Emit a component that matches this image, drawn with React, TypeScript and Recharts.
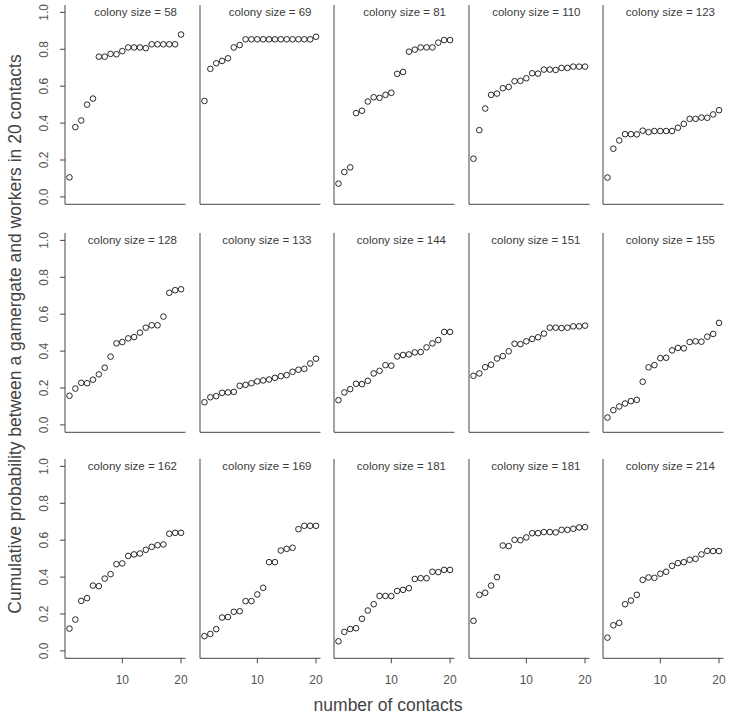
import React from 'react';
import { ScatterChart, Scatter, XAxis, YAxis } from 'recharts';

// number of contacts on the x axis of every panel
const contacts = [1, 2, 3, 4, 5, 6, 7, 8, 9, 10, 11, 12, 13, 14, 15, 16, 17, 18, 19, 20];

// cumulative probability, one array per colony
const prob58 = [0.106, 0.378, 0.414, 0.5, 0.533, 0.76, 0.76, 0.775, 0.773, 0.79, 0.81, 0.81, 0.81, 0.806, 0.827, 0.827, 0.827, 0.827, 0.827, 0.88];
const prob69 = [0.52, 0.694, 0.724, 0.737, 0.751, 0.81, 0.823, 0.854, 0.854, 0.854, 0.854, 0.854, 0.854, 0.854, 0.854, 0.854, 0.854, 0.854, 0.854, 0.868];
const prob81 = [0.072, 0.135, 0.16, 0.454, 0.467, 0.517, 0.54, 0.537, 0.553, 0.564, 0.667, 0.677, 0.787, 0.798, 0.81, 0.81, 0.81, 0.836, 0.85, 0.85];
const prob110 = [0.207, 0.362, 0.479, 0.553, 0.56, 0.589, 0.596, 0.627, 0.629, 0.643, 0.67, 0.668, 0.69, 0.69, 0.688, 0.699, 0.699, 0.706, 0.706, 0.706];
const prob123 = [0.105, 0.261, 0.306, 0.34, 0.34, 0.339, 0.359, 0.351, 0.357, 0.357, 0.357, 0.357, 0.375, 0.396, 0.423, 0.423, 0.43, 0.429, 0.447, 0.47];
const prob128 = [0.158, 0.197, 0.228, 0.226, 0.245, 0.274, 0.31, 0.37, 0.442, 0.449, 0.469, 0.476, 0.5, 0.527, 0.54, 0.54, 0.587, 0.716, 0.73, 0.735];
const prob133 = [0.123, 0.15, 0.156, 0.174, 0.176, 0.179, 0.212, 0.217, 0.226, 0.236, 0.241, 0.246, 0.255, 0.264, 0.27, 0.288, 0.299, 0.304, 0.333, 0.359];
const prob144 = [0.134, 0.176, 0.194, 0.223, 0.221, 0.239, 0.279, 0.293, 0.324, 0.321, 0.371, 0.379, 0.382, 0.393, 0.395, 0.42, 0.442, 0.46, 0.504, 0.504];
const prob151 = [0.266, 0.279, 0.313, 0.326, 0.36, 0.373, 0.399, 0.44, 0.438, 0.453, 0.466, 0.475, 0.495, 0.527, 0.527, 0.525, 0.527, 0.534, 0.534, 0.538];
const prob155 = [0.04, 0.08, 0.1, 0.116, 0.129, 0.136, 0.234, 0.312, 0.324, 0.362, 0.364, 0.404, 0.417, 0.415, 0.449, 0.453, 0.451, 0.478, 0.493, 0.553];
const prob162 = [0.121, 0.17, 0.271, 0.286, 0.354, 0.351, 0.392, 0.416, 0.47, 0.474, 0.515, 0.523, 0.528, 0.548, 0.564, 0.573, 0.577, 0.635, 0.64, 0.64];
const prob169 = [0.08, 0.092, 0.118, 0.181, 0.184, 0.212, 0.215, 0.27, 0.27, 0.306, 0.342, 0.481, 0.481, 0.544, 0.553, 0.559, 0.66, 0.678, 0.678, 0.678];
const prob181a = [0.052, 0.103, 0.119, 0.123, 0.174, 0.219, 0.253, 0.298, 0.298, 0.297, 0.325, 0.331, 0.34, 0.39, 0.394, 0.394, 0.429, 0.427, 0.439, 0.439];
const prob181b = [0.163, 0.304, 0.315, 0.354, 0.4, 0.571, 0.568, 0.602, 0.6, 0.615, 0.638, 0.638, 0.644, 0.644, 0.642, 0.656, 0.656, 0.662, 0.669, 0.671];
const prob214 = [0.072, 0.139, 0.152, 0.253, 0.273, 0.304, 0.385, 0.398, 0.396, 0.418, 0.429, 0.461, 0.476, 0.481, 0.494, 0.499, 0.523, 0.542, 0.541, 0.541];

const colonySizes = [58, 69, 81, 110, 123, 128, 133, 144, 151, 155, 162, 169, 181, 181, 214];
const panelValues = [
  prob58, prob69, prob81, prob110, prob123,
  prob128, prob133, prob144, prob151, prob155,
  prob162, prob169, prob181a, prob181b, prob214,
];

const yTicks = [0, 0.2, 0.4, 0.6, 0.8, 1.0];
const xTicks = [10, 20];

// layout of the 3 x 5 grid (plot areas)
const colLeft = [65, 199.5, 334, 468.5, 603];
const rowTop = [4.9, 233.3, 459.3];
const plotW = 120.5;
const plotH = 199.3;
const padL = 40;
const padT = 5;
const padR = 10;
const padB = 30;

const font = "Arial, 'Liberation Sans', sans-serif";

const YTickLabel = (props: any) => {
  const { x, y, payload } = props;
  const bx = x - 10;
  return (
    <text
      x={bx}
      y={y}
      transform={`rotate(-90 ${bx} ${y})`}
      textAnchor="middle"
      fontSize={12}
      fill="#555"
      fontFamily={font}
    >
      {Number(payload.value).toFixed(1)}
    </text>
  );
};

const OpenCircle = (props: any) => {
  const { cx, cy } = props;
  return <circle cx={cx} cy={cy} r={2.8} fill="none" stroke="#111" strokeWidth={0.9} />;
};

function Panel({ index }: { index: number }) {
  const row = Math.floor(index / 5);
  const col = index % 5;
  const values = panelValues[index];
  const points = contacts.map((c, i) => ({ x: c, y: values[i] }));
  const left = colLeft[col];
  const top = rowTop[row];

  return (
    <>
      <div style={{ position: 'absolute', left: left - padL, top: top - padT }}>
        <ScatterChart
          width={padL + plotW + padR}
          height={padT + plotH + padB}
          margin={{ top: padT, right: padR, bottom: 0, left: 0 }}
        >
          <XAxis
            type="number"
            dataKey="x"
            domain={[0.24, 20.76]}
            ticks={xTicks}
            interval={0}
            height={padB}
            tickSize={5}
            tickMargin={12}
            axisLine={{ stroke: '#444' }}
            tickLine={{ stroke: '#444' }}
            tick={row === 2 ? { fontSize: 12, fill: '#555', fontFamily: font } : false}
          />
          <YAxis
            type="number"
            dataKey="y"
            domain={[-0.04, 1.04]}
            ticks={yTicks}
            interval={0}
            width={padL}
            tickSize={5}
            axisLine={{ stroke: '#444' }}
            tickLine={{ stroke: '#444' }}
            tick={col === 0 ? <YTickLabel /> : false}
          />
          <Scatter data={points} shape={<OpenCircle />} isAnimationActive={false} />
        </ScatterChart>
      </div>
      <div
        style={{
          position: 'absolute',
          left: left,
          width: plotW - 8.5,
          top: top + 0.8,
          lineHeight: '12px',
          fontSize: 11.5,
          fontFamily: font,
          color: '#3a3a3a',
          textAlign: 'right',
          whiteSpace: 'nowrap',
        }}
      >
        colony size = {colonySizes[index]}
      </div>
    </>
  );
}

export default function App() {
  return (
    <div
      style={{
        position: 'absolute',
        left: 0,
        top: 0,
        width: 733,
        height: 717,
        background: '#fff',
        overflow: 'hidden',
      }}
    >
      {colonySizes.map((_, i) => (
        <Panel key={i} index={i} />
      ))}
      <div
        style={{
          position: 'absolute',
          left: 15,
          top: 334,
          transform: 'translate(-50%, -50%) rotate(-90deg)',
          fontSize: 17.5,
          fontFamily: font,
          color: '#444',
          whiteSpace: 'nowrap',
        }}
      >
        Cumulative probability between a gamergate and workers in 20 contacts
      </div>
      <div
        style={{
          position: 'absolute',
          left: 388,
          top: 705,
          transform: 'translate(-50%, -50%)',
          fontSize: 17.5,
          fontFamily: font,
          color: '#444',
          whiteSpace: 'nowrap',
        }}
      >
        number of contacts
      </div>
    </div>
  );
}
